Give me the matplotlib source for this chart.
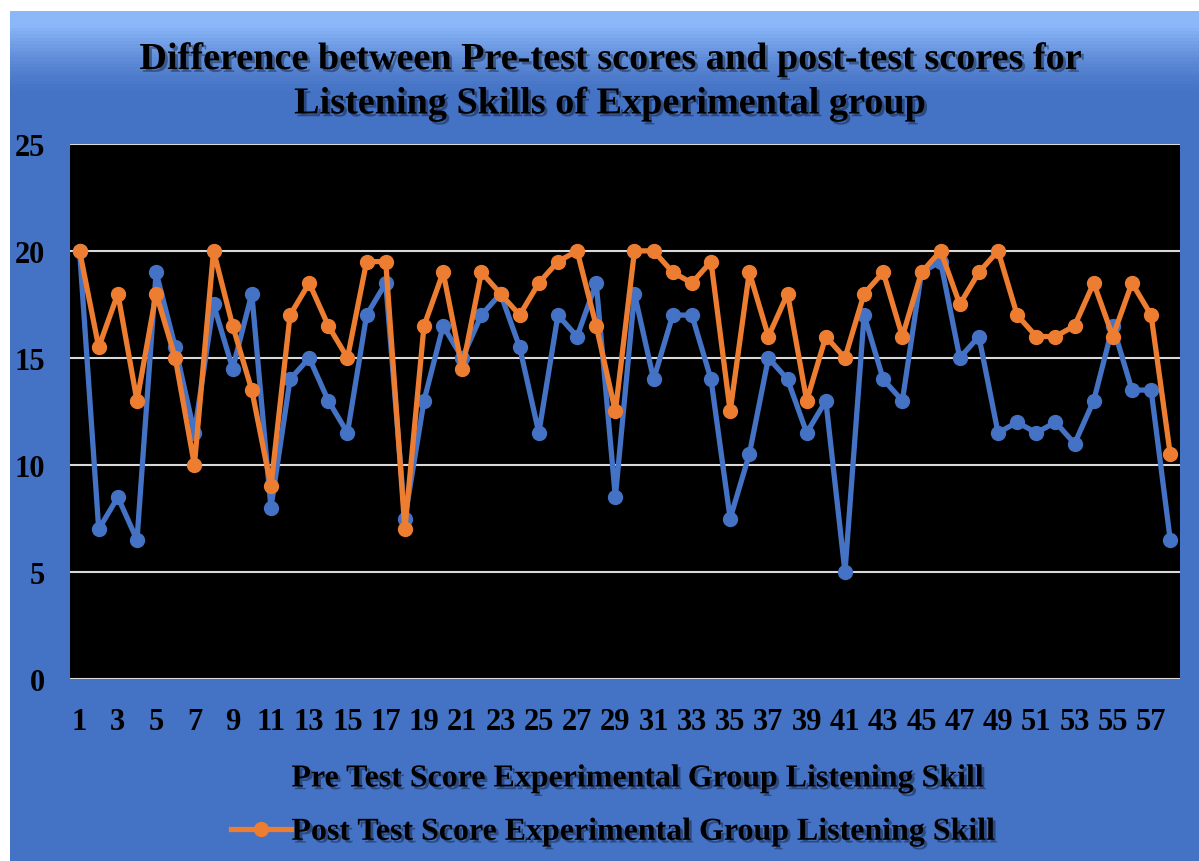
import matplotlib.pyplot as plt
import matplotlib.patheffects as pe
import numpy as np

# data
students = list(range(1, 59))
pre_scores = [20, 7, 8.5, 6.5, 19, 15.5, 11.5, 17.5, 14.5, 18,
              8, 14, 15, 13, 11.5, 17, 18.5, 7.5, 13, 16.5,
              15, 17, 18, 15.5, 11.5, 17, 16, 18.5, 8.5, 18,
              14, 17, 17, 14, 7.5, 10.5, 15, 14, 11.5, 13,
              5, 17, 14, 13, 19, 19.5, 15, 16, 11.5, 12,
              11.5, 12, 11, 13, 16.5, 13.5, 13.5, 6.5]
post_scores = [20, 15.5, 18, 13, 18, 15, 10, 20, 16.5, 13.5,
               9, 17, 18.5, 16.5, 15, 19.5, 19.5, 7, 16.5, 19,
               14.5, 19, 18, 17, 18.5, 19.5, 20, 16.5, 12.5, 20,
               20, 19, 18.5, 19.5, 12.5, 19, 16, 18, 13, 16,
               15, 18, 19, 16, 19, 20, 17.5, 19, 20, 17,
               16, 16, 16.5, 18.5, 16, 18.5, 17, 10.5]
x_ticks = list(range(1, 58, 2))
y_ticks = [0, 5, 10, 15, 20, 25]

title = ('Difference between Pre-test scores and post-test scores for\n'
         'Listening Skills of Experimental group')
pre_label = 'Pre Test Score Experimental Group Listening Skill'
post_label = 'Post Test Score Experimental Group Listening Skill'

blue = '#4472C4'
orange = '#ED7D31'
serif = ['Liberation Serif', 'DejaVu Serif']

fig = plt.figure(figsize=(11.99, 8.62), dpi=100)
fig.patch.set_facecolor('white')

# blue panel with a light bevel at the top
bg = fig.add_axes([0, 0, 1, 1])
bg.set_xlim(0, 1)
bg.set_ylim(0, 1)
bg.axis('off')
grad = np.linspace(0, 1, 256).reshape(-1, 1)
top_col = np.array([0.55, 0.72, 0.98])
base_col = np.array([0x44, 0x72, 0xC4]) / 255.0
w = np.clip((grad - 0.90) / 0.085, 0, 1) ** 1.5
img = base_col + (top_col - base_col) * w
img = img.reshape(256, 1, 3)
bg.imshow(img, extent=[0.008, 1, 0, 0.986], origin='lower', aspect='auto')

ax = fig.add_axes([0.0584, 0.211, 0.9256, 0.621])
ax.set_facecolor('black')
ax.plot(students, pre_scores, color=blue, linewidth=3.8, marker='o',
        markersize=10, label=pre_label, zorder=3)
ax.plot(students, post_scores, color=orange, linewidth=3.8, marker='o',
        markersize=10, label=post_label, zorder=4)

ax.set_xlim(0.5, 58.5)
ax.set_ylim(0, 25)
ax.set_xticks(x_ticks)
ax.set_yticks(y_ticks)
ax.grid(axis='y', color='#d9d9d9', linewidth=1.5)
ax.set_axisbelow(True)
for s in ax.spines.values():
    s.set_visible(False)
ax.tick_params(length=0, pad=20)
ax.tick_params(axis='y', pad=18)
for lab in ax.get_xticklabels() + ax.get_yticklabels():
    lab.set_family(serif)
    lab.set_fontweight('bold')
    lab.set_fontsize(22)
    lab.set_color('black')

shadow = [pe.withSimplePatchShadow(offset=(2, -2), shadow_rgbFace='black', alpha=0.35)]

fig.text(0.509, 0.904, title, ha='center', va='center', family=serif,
         fontweight='bold', fontsize=27.5, linespacing=1.35,
         path_effects=shadow)

leg = ax.legend(loc='upper center', bbox_to_anchor=(0.49, -0.105), ncol=1,
                frameon=False, prop={'family': serif, 'weight': 'bold', 'size': 23},
                handlelength=1.9, handletextpad=0.0, labelspacing=0.75)
for t in leg.get_texts():
    t.set_path_effects(shadow)

fig.savefig('out.png', dpi=100)
